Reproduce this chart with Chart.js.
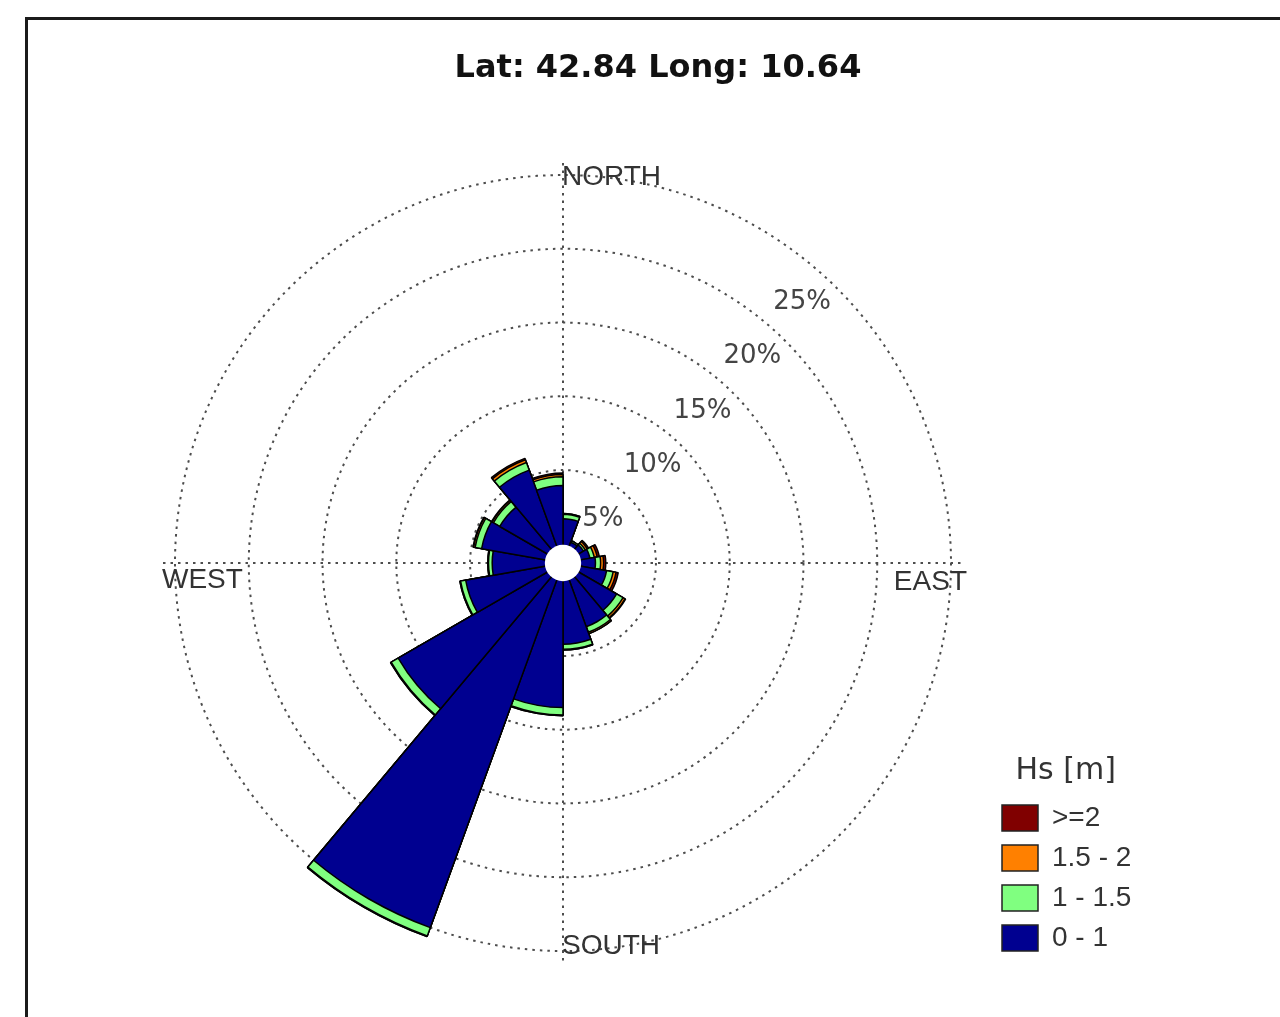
<!DOCTYPE html>
<html lang="en">
  <head>
    <meta charset="UTF-8" />
    <title>Wave rose - Lat 42.84 Long 10.64</title>
    <script src="https://cdn.jsdelivr.net/npm/chart.js@4.4.0/dist/chart.umd.min.js"></script>
    <style>
      body {
        margin: 0;
        background: #fff;
      }
      #wrap {
        position: relative;
        width: 1280px;
        height: 1017px;
        overflow: hidden;
      }
      #frame {
        position: absolute;
        left: 25px;
        top: 17px;
        width: 1300px;
        height: 1100px;
        border-left: 3px solid #1b1b1b;
        border-top: 3px solid #1b1b1b;
        pointer-events: none;
      }
    </style>
  </head>
  <body>
    <div id="wrap">
      <canvas id="rose" width="1280" height="1017"></canvas>
      <div id="frame"></div>
    </div>

    <script>
      // 18 sectors of 20 deg, clockwise from north (centre bearing of each sector)
      const directions = ['10', '30', '50', '70', '90', '110', '130', '150', '170',
        '190', '210', '230', '250', '270', '290', '310', '330', '350'];

      // frequency of occurrence (%) per Hs class
      const hs0to1 = [1.7, 0.2, 0.3, 0.55, 0.9, 1.7, 2.9, 3.3, 4.2, 8.5, 25.0, 11.6, 5.4, 3.5, 4.3, 3.65, 5.4, 3.95];
      const hs1to15 = [0.3, 0.1, 0.15, 0.3, 0.35, 0.45, 0.5, 0.4, 0.35, 0.5, 0.6, 0.55, 0.35, 0.25, 0.45, 0.5, 0.55, 0.6];
      const hs15to2 = [0.05, 0, 0.15, 0.2, 0.2, 0.2, 0.15, 0.1, 0.05, 0.05, 0.05, 0.05, 0.05, 0.05, 0.1, 0.1, 0.2, 0.15];
      const hs2plus = [0, 0, 0.1, 0.15, 0.15, 0.15, 0.05, 0, 0, 0, 0, 0, 0, 0, 0.05, 0.05, 0.1, 0.1];

      const classLabels = ['0 - 1', '1 - 1.5', '1.5 - 2', '>=2'];
      const classColors = ['#000090', '#80ff80', '#ff8000', '#800000'];
      const compass = ['NORTH', 'EAST', 'SOUTH', 'WEST'];

      // polarArea can't stack, so each class is drawn as a cumulative wedge
      // (the smallest one on top)
      const classes = [hs0to1, hs1to15, hs15to2, hs2plus];
      const datasets = classes.map((_, k) => ({
        label: classLabels[k],
        data: directions.map((d, i) =>
          classes.slice(0, k + 1).reduce((s, c) => s + c[i], 0)
        ),
        backgroundColor: classColors[k],
        borderColor: '#000',
        borderWidth: 1.5,
      }));

      const dotted = [2.5, 5];

      const roseDecor = {
        id: 'roseDecor',
        afterLayout(chart) {
          // title is centred on the whole figure, legend sits bottom right
          chart.titleBlock.left = 0;
          chart.titleBlock.right = 1316;
          const lg = chart.legend;
          lg.left = 990;
          lg.right = 1280;
          lg.top = 175;
          lg.bottom = 964;
        },
        beforeDatasetsDraw(chart) {
          const r = chart.scales.r;
          const len = r.getDistanceFromCenterForValue(r.max) + 12;
          const ctx = chart.ctx;
          ctx.save();
          ctx.strokeStyle = '#4d4d4d';
          ctx.lineWidth = 2;
          ctx.setLineDash(dotted);
          ctx.beginPath();
          ctx.moveTo(r.xCenter, r.yCenter - len);
          ctx.lineTo(r.xCenter, r.yCenter + len);
          ctx.moveTo(r.xCenter - len, r.yCenter);
          ctx.lineTo(r.xCenter + len, r.yCenter);
          ctx.stroke();
          ctx.restore();
        },
        afterDatasetsDraw(chart) {
          const r = chart.scales.r;
          const ctx = chart.ctx;
          ctx.save();
          ctx.fillStyle = '#fff';
          ctx.beginPath();
          ctx.arc(r.xCenter, r.yCenter, r.getDistanceFromCenterForValue(0) - 1, 0, Math.PI * 2);
          ctx.fill();
          ctx.restore();
        },
        afterDraw(chart) {
          const r = chart.scales.r;
          const ctx = chart.ctx;
          const cx = r.xCenter;
          const cy = r.yCenter;
          const R = r.getDistanceFromCenterForValue(r.max);
          ctx.save();
          // ring labels
          ctx.font = '26px "DejaVu Sans"';
          ctx.fillStyle = '#444';
          ctx.textAlign = 'center';
          ctx.textBaseline = 'middle';
          const a = (42.5 * Math.PI) / 180;
          r.ticks.forEach((t) => {
            if (t.value <= 0) return;
            const d = r.getDistanceFromCenterForValue(t.value) - 34;
            ctx.fillText(t.label, cx + d * Math.sin(a), cy - d * Math.cos(a));
          });
          // compass labels
          ctx.font = '28px "Liberation Sans"';
          ctx.fillStyle = '#333';
          ctx.textAlign = 'left';
          ctx.fillText(compass[0], cx - 1, cy - R + 2);
          ctx.fillText(compass[2], cx - 1, cy + R - 5);
          ctx.fillText(compass[3], cx - R - 13, cy + 17);
          ctx.textAlign = 'right';
          ctx.fillText(compass[1], cx + R + 16, cy + 19);
          ctx.restore();
        },
      };

      new Chart(document.getElementById('rose'), {
        type: 'polarArea',
        data: { labels: directions, datasets: datasets },
        plugins: [roseDecor],
        options: {
          responsive: false,
          animation: false,
          layout: { padding: { left: 175, right: 329, top: 0, bottom: 66 } },
          scales: {
            r: {
              min: -1.3,
              max: 25,
              startAngle: 0,
              ticks: {
                display: false,
                stepSize: 5,
                callback: (v) => v + '%',
              },
              grid: {
                circular: true,
                lineWidth: 2,
                color: (c) => (c.tick && c.tick.value > 0 ? '#4d4d4d' : 'rgba(0,0,0,0)'),
              },
              border: { dash: dotted },
              angleLines: { display: false },
              pointLabels: { display: false },
            },
          },
          plugins: {
            tooltip: { enabled: false },
            title: {
              display: true,
              text: 'Lat: 42.84 Long: 10.64',
              color: '#111',
              font: { family: 'DejaVu Sans', size: 32, weight: 'bold' },
              padding: { top: 49, bottom: 87.6 },
            },
            legend: {
              position: 'chartArea',
              align: 'end',
              title: {
                display: true,
                text: 'Hs [m]',
                position: 'center',
                color: '#333',
                font: { family: 'DejaVu Sans', size: 30 },
                padding: 0,
              },
              labels: {
                boxWidth: 36,
                boxHeight: 26,
                padding: 12,
                color: '#333',
                font: { family: 'Liberation Sans', size: 28 },
                generateLabels: (chart) =>
                  chart.data.datasets
                    .map((ds, i) => ({
                      text: ds.label,
                      fillStyle: ds.backgroundColor,
                      strokeStyle: '#222',
                      lineWidth: 1.5,
                      hidden: false,
                      datasetIndex: i,
                    }))
                    .reverse(),
              },
            },
          },
        },
      });
    </script>
  </body>
</html>
